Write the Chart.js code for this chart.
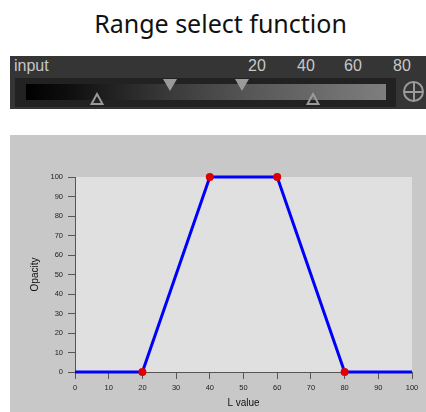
<!DOCTYPE html>
<html>
<head>
<meta charset="utf-8">
<script src="https://cdn.jsdelivr.net/npm/chart.js@4"></script>
<style>
  html, body { margin: 0; padding: 0; background: #ffffff; }
  body { width: 426px; height: 412px; position: relative; overflow: hidden; font-family: "Liberation Sans", Arial, sans-serif; }
  #title { position: absolute; left: 0; top: 6px; width: 441px; text-align: center; font-family: "Noto Sans", "Open Sans", sans-serif; font-size: 25px; color: #111; }
  #widget { position: absolute; left: 10px; top: 56px; width: 416px; height: 53px; background: #353535; }
  .lbl { position: absolute; color: #c8c8c8; font-family: "Liberation Sans", Arial, sans-serif; font-size: 16px; line-height: 16px; }
  #track { position: absolute; left: 5px; top: 22px; width: 381px; height: 29px; background: #222222; }
  #grad { position: absolute; left: 16px; top: 28px; width: 360px; height: 16px; background: linear-gradient(to right, #000000 0%, #0c0c0c 10%, #3a3a3a 40%, #5a5a5a 65%, #7e7e7e 100%); }
  .down { position: absolute; width: 0; height: 0; border-left: 7px solid transparent; border-right: 7px solid transparent; border-top: 12px solid #9a9a9a; }
  .up { position: absolute; }
  #plus { position: absolute; left: 393px; top: 25px; width: 17px; height: 17px; border: 2px solid #9a9a9a; border-radius: 50%; }
  #plus:before { content: ""; position: absolute; left: 7.5px; top: 0; width: 2px; height: 17px; background: #9a9a9a; }
  #plus:after { content: ""; position: absolute; left: 0; top: 7.5px; width: 17px; height: 2px; background: #9a9a9a; }
  #chartBox { position: absolute; left: 10px; top: 135px; width: 416px; height: 277px; background: #c8c8c8; }
</style>
</head>
<body>
<div id="title">Range select function</div>
<div id="widget">
  <div class="lbl" style="left:4px; top:2px;">input</div>
  <div class="lbl" style="left:238px; top:2px;">20</div>
  <div class="lbl" style="left:287px; top:2px;">40</div>
  <div class="lbl" style="left:334px; top:2px;">60</div>
  <div class="lbl" style="left:383px; top:2px;">80</div>
  <div id="track"></div>
  <div id="grad"></div>
  <div class="down" style="left:153px; top:23px;"></div>
  <div class="down" style="left:225px; top:23px;"></div>
  <svg class="up" style="left:80px; top:36px;" width="14" height="14"><polygon points="7,2 12.5,12 1.5,12" fill="none" stroke="#9a9a9a" stroke-width="2"/></svg>
  <svg class="up" style="left:296px; top:36px;" width="14" height="14"><polygon points="7,2 12.5,12 1.5,12" fill="none" stroke="#9a9a9a" stroke-width="2"/></svg>
  <div id="plus"></div>
</div>
<div id="chartBox"><canvas id="c" width="416" height="277"></canvas></div>
<script>
const lValues = [0, 20, 40, 60, 80, 100];
const opacity = [0, 0, 100, 100, 0, 0];
const xTickLabels = [0, 10, 20, 30, 40, 50, 60, 70, 80, 90, 100];
const yTickLabels = [0, 10, 20, 30, 40, 50, 60, 70, 80, 90, 100];

const plotBg = {
  id: 'plotBg',
  beforeDraw(chart) {
    const { ctx, chartArea: a } = chart;
    ctx.save();
    ctx.fillStyle = '#e0e0e0';
    ctx.fillRect(a.left, a.top, a.right - a.left, a.bottom - a.top);
    ctx.restore();
  }
};

const tickFont = { family: '"Liberation Sans", Arial, sans-serif', size: 7.5 };
const titleFont = { family: '"Liberation Sans", Arial, sans-serif', size: 10 };

new Chart(document.getElementById('c'), {
  type: 'line',
  data: {
    datasets: [{
      data: lValues.map((x, i) => ({ x: x, y: opacity[i] })),
      borderColor: '#0000ff',
      borderWidth: 3,
      tension: 0,
      pointRadius: ctx => (ctx.dataIndex === 0 || ctx.dataIndex === lValues.length - 1) ? 0 : 4,
      pointBackgroundColor: '#dd0000',
      pointBorderWidth: 0,
      clip: false
    }]
  },
  options: {
    responsive: false,
    animation: false,
    devicePixelRatio: 1,
    layout: { padding: { left: 15, top: 42, right: 14, bottom: 0 } },
    plugins: { legend: { display: false }, tooltip: { enabled: false } },
    scales: {
      x: {
        type: 'linear', min: 0, max: 100,
        afterBuildTicks: s => { s.ticks = xTickLabels.map(v => ({ value: v })); },
        afterFit: s => { s.height = 40; },
        ticks: { font: tickFont, color: '#222', padding: 4, maxRotation: 0, autoSkip: false },
        grid: { drawOnChartArea: false, drawTicks: true, tickLength: 7, color: '#555', lineWidth: 1 },
        border: { display: true, color: '#555', width: 1 },
        title: { display: true, text: 'L value', font: titleFont, color: '#111', padding: { top: 2, bottom: 3 } }
      },
      y: {
        type: 'linear', min: 0, max: 100,
        afterBuildTicks: s => { s.ticks = yTickLabels.map(v => ({ value: v })); },
        afterFit: s => { s.width = 50; },
        ticks: { font: tickFont, color: '#222', padding: 5, autoSkip: false },
        grid: { drawOnChartArea: false, drawTicks: true, tickLength: 7, color: '#555', lineWidth: 1 },
        border: { display: true, color: '#555', width: 1 },
        title: { display: true, text: 'Opacity', font: titleFont, color: '#111', padding: { top: 4, bottom: 4 } }
      }
    }
  },
  plugins: [plotBg]
});
</script>
</body>
</html>
